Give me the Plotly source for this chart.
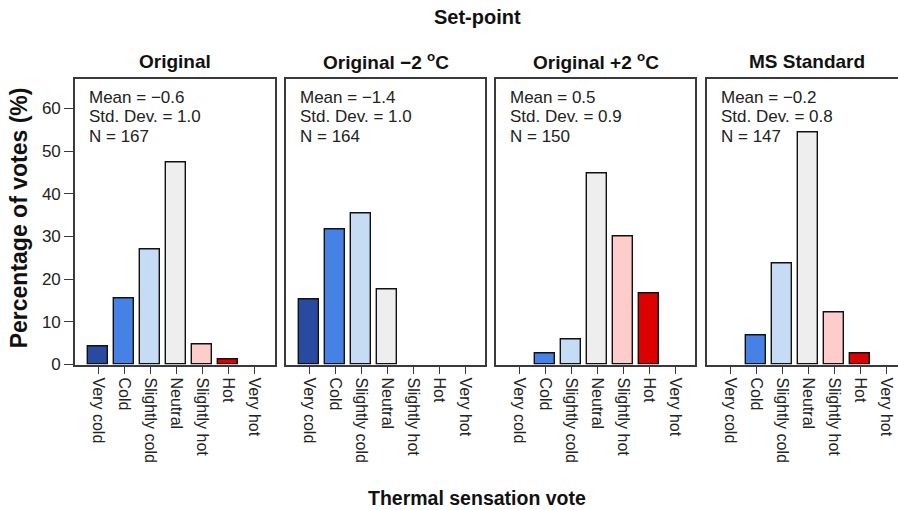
import plotly.graph_objects as go

# Thermal sensation categories (ASHRAE 7-point scale)
categories = ["Very cold", "Cold", "Slightly cold", "Neutral", "Slightly hot", "Hot", "Very hot"]
bar_colors = ["#284BA0", "#4682E6", "#C6DCF5", "#EEEEEE", "#FFCCCC", "#DD0000", "#DD0000"]

# Set-point conditions
setpoints = ["Original", "Original \u22122 <sup>o</sup>C", "Original +2 <sup>o</sup>C", "MS Standard"]

# Percentage of votes per category, one list per set-point
pct_original = [4.2, 15.6, 26.9, 47.3, 4.8, 1.2, 0.0]
pct_minus2 = [15.2, 31.7, 35.4, 17.7, 0.0, 0.0, 0.0]
pct_plus2 = [0.0, 2.7, 6.0, 44.7, 30.0, 16.7, 0.0]
pct_ms = [0.0, 6.8, 23.8, 54.4, 12.2, 2.7, 0.0]

# Summary statistics shown in each panel
means = ["\u22120.6", "\u22121.4", "0.5", "\u22120.2"]
std_devs = ["1.0", "1.0", "0.9", "0.8"]
n_votes = [167, 164, 150, 147]

y_ticks = [0, 10, 20, 30, 40, 50, 60]

W, H = 898, 510
VSCALE = 0.979  # vertical pixel factor of the rendered page
FONT = "Liberation Sans, Arial, Helvetica, sans-serif"
TXT = "#222222"
FRAME = "#3a3a3a"


def px_x(p):
    return p / W


def px_y(p):
    return 1 - (p / VSCALE) / H


series = [pct_original, pct_minus2, pct_plus2, pct_ms]
panel_px = [(75, 275), (286, 485), (496, 695), (707, 898)]
unit_px = 26.0  # pixel spacing between category centres
x0 = -0.885
y_top_px, y_bot_px = 79.3, 364.0
y_max = 66.8

fig = go.Figure()

for i, vals in enumerate(series):
    ax = "" if i == 0 else str(i + 1)
    fig.add_trace(go.Bar(
        x=list(range(len(categories))),
        y=vals,
        width=0.75,
        marker=dict(
            color=bar_colors,
            line=dict(color="#111111", width=[1.4 if v > 0 else 0 for v in vals]),
        ),
        xaxis="x" + ax,
        yaxis="y" + ax,
        showlegend=False,
        hoverinfo="skip",
    ))
    left, right = panel_px[i]
    x1 = x0 + (right - left) / unit_px
    fig.layout["xaxis" + ax] = dict(
        domain=[px_x(left), px_x(right)],
        range=[x0, x1],
        anchor="y" + ax,
        tickmode="array",
        tickvals=list(range(len(categories))),
        ticktext=categories,
        tickangle=90,
        ticks="outside",
        ticklen=8,
        tickwidth=1.2,
        tickcolor=FRAME,
        showline=True,
        linecolor=FRAME,
        linewidth=1.6,
        mirror=True,
        showgrid=False,
        zeroline=False,
        fixedrange=True,
        tickfont=dict(family=FONT, size=16, color=TXT),
    )
    fig.layout["yaxis" + ax] = dict(
        domain=[px_y(y_bot_px), px_y(y_top_px)],
        range=[0, y_max],
        anchor="x" + ax,
        tickmode="array",
        tickvals=y_ticks if i == 0 else [],
        ticks="outside" if i == 0 else "",
        ticklen=9,
        tickwidth=1.2,
        tickcolor=FRAME,
        showticklabels=(i == 0),
        showline=True,
        linecolor=FRAME,
        linewidth=1.6,
        mirror=(i < 3),
        showgrid=False,
        zeroline=False,
        fixedrange=True,
        tickfont=dict(family=FONT, size=17, color=TXT),
    )

annotations = []
for i in range(4):
    left, right = panel_px[i]
    centre = (left + 200 / 2) if i == 3 else (left + right) / 2
    annotations.append(dict(
        text="<b>" + setpoints[i] + "</b>",
        x=px_x(centre), y=px_y(61), xref="paper", yref="paper",
        xanchor="center", yanchor="middle", showarrow=False,
        font=dict(family=FONT, size=19, color="#111111"),
    ))
    stat_lines = [f"Mean = {means[i]}", f"Std. Dev. = {std_devs[i]}", f"N = {n_votes[i]}"]
    for k, line in enumerate(stat_lines):
        annotations.append(dict(
            text=line,
            x=px_x(left + 12), y=px_y(97 + 19.5 * k), xref="paper", yref="paper",
            xanchor="left", yanchor="middle", align="left", showarrow=False,
            font=dict(family=FONT, size=17, color=TXT),
        ))

annotations += [
    dict(text="<b>Set-point</b>", x=px_x(477), y=px_y(17), xref="paper", yref="paper",
         xanchor="center", yanchor="middle", showarrow=False,
         font=dict(family=FONT, size=20, color="#111111")),
    dict(text="<b>Thermal sensation vote</b>", x=px_x(477), y=px_y(497), xref="paper", yref="paper",
         xanchor="center", yanchor="middle", showarrow=False,
         font=dict(family=FONT, size=19.5, color="#111111")),
    dict(text="<b>Percentage of votes (%)</b>", x=px_x(19), y=px_y(218), xref="paper", yref="paper",
         xanchor="center", yanchor="middle", textangle=-90, showarrow=False,
         font=dict(family=FONT, size=23, color="#111111")),
]

fig.update_layout(
    width=W, height=H,
    margin=dict(l=0, r=0, t=0, b=0),
    paper_bgcolor="white",
    plot_bgcolor="white",
    annotations=annotations,
    bargap=0,
)

fig.write_html("out.html")
